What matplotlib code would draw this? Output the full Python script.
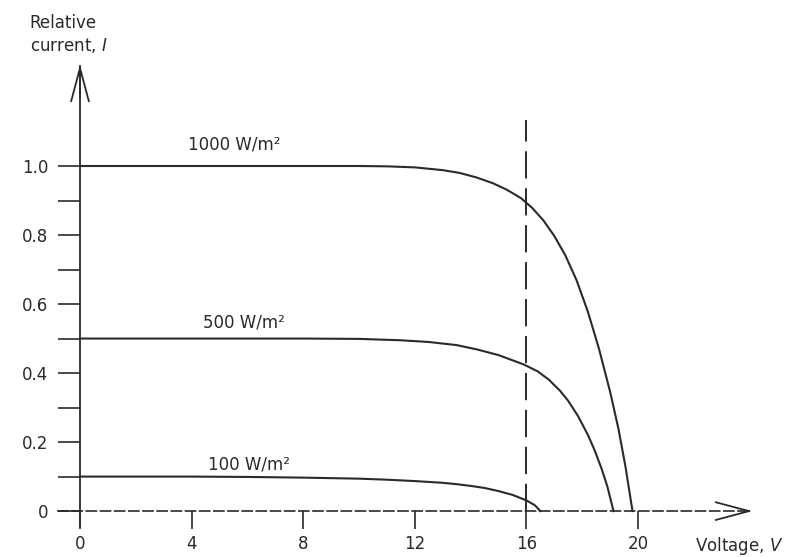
import matplotlib
matplotlib.use("Agg")
import matplotlib.pyplot as plt

# ── Data ───────────────────────────────────────────────────────────────────────
v_1000 = [0, 4, 8, 10, 11, 12, 13, 13.6, 14.2, 14.8, 15.3, 15.8, 16.2, 16.6,
          17.0, 17.4, 17.8, 18.2, 18.6, 19.0, 19.3, 19.55, 19.8]
i_1000 = [1.0, 1.0, 1.0, 1.0, 0.999, 0.996, 0.988, 0.980, 0.967, 0.950, 0.931, 0.907, 0.879, 0.843,
          0.797, 0.740, 0.668, 0.578, 0.470, 0.345, 0.237, 0.128, 0.0]

v_500 = [0, 4, 8, 10, 11.5, 12.5, 13.5, 14.25, 15.0, 15.9, 16.4, 16.8, 17.2, 17.5,
         17.85, 18.2, 18.45, 18.7, 18.9, 19.12]
i_500 = [0.5, 0.5, 0.5, 0.499, 0.495, 0.490, 0.481, 0.468, 0.452, 0.425, 0.405, 0.381, 0.349, 0.319,
         0.275, 0.221, 0.175, 0.121, 0.071, 0.0]

v_100 = [0, 4, 6, 8, 10, 11, 12, 13, 13.5, 14, 14.5, 15.0, 15.5, 16.0, 16.3, 16.5]
i_100 = [0.1, 0.1, 0.099, 0.097, 0.094, 0.091, 0.087, 0.082, 0.078, 0.073, 0.067, 0.058, 0.047,
         0.031, 0.017, 0.0]

x_ticks = [0, 4, 8, 12, 16, 20]
x_tick_labels = ["0", "4", "8", "12", "16", "20"]
y_ticks = [0, 0.2, 0.4, 0.6, 0.8, 1.0]
y_tick_labels = ["0", "0.2", "0.4", "0.6", "0.8", "1.0"]
y_minor = [0.1, 0.3, 0.5, 0.7, 0.9]

curve_labels = ["1000 W/m²", "500 W/m²", "100 W/m²"]
mpp_voltage = 16

# ── Style ──────────────────────────────────────────────────────────────────────
INK = "#2a2a2a"
plt.rcParams["font.family"] = "DejaVu Sans"
plt.rcParams["mathtext.fontset"] = "dejavusans"

fig = plt.figure(figsize=(7.91, 5.57), dpi=100)
ax = fig.add_axes([0, 0, 1, 1])
ax.set_xlim(-2.867, 25.48)
ax.set_ylim(-0.133, 1.481)

for s in ["top", "right"]:
    ax.spines[s].set_visible(False)
ax.spines["left"].set_position(("data", 0))
ax.spines["bottom"].set_position(("data", 0))
ax.spines["left"].set_bounds(-0.045, 1.29)
ax.spines["bottom"].set_bounds(-0.79, 24.0)
ax.spines["left"].set_color(INK)
ax.spines["bottom"].set_color(INK)
ax.spines["left"].set_linewidth(1.3)
ax.spines["bottom"].set_linewidth(1.2)
ax.spines["bottom"].set_linestyle((0, (6, 2.5)))

ax.set_xticks(x_ticks)
ax.set_xticklabels(x_tick_labels)
ax.set_yticks(y_ticks)
ax.set_yticklabels(y_tick_labels)
ax.set_yticks(y_minor, minor=True)
ax.tick_params(axis="x", direction="out", length=13, width=1.2, pad=4,
               labelsize=12, colors=INK)
ax.tick_params(axis="y", which="both", direction="out", length=16, width=1.2,
               pad=7, labelsize=12, colors=INK)

# axis arrow heads
arrow = dict(arrowstyle="->,head_length=1.2,head_width=0.32", mutation_scale=20,
             lw=1.3, color=INK, shrinkA=0, shrinkB=0)
ax.annotate("", xy=(0, 1.294), xytext=(0, 1.2), arrowprops=arrow)
ax.annotate("", xy=(24.1, 0), xytext=(23.9, 0), arrowprops=arrow)

# curves
for v, i in [(v_1000, i_1000), (v_500, i_500), (v_100, i_100)]:
    ax.plot(v, i, color=INK, lw=1.5, solid_joinstyle="round")

# dashed line at maximum power voltage
ax.vlines(mpp_voltage, 0, 1.134, color=INK, lw=1.4, linestyles=(0, (14, 5)))

# curve labels
ax.text(3.88, 1.047, curve_labels[0], fontsize=12, color=INK, va="baseline")
ax.text(4.42, 0.531, curve_labels[1], fontsize=12, color=INK, va="baseline")
ax.text(4.6, 0.12, curve_labels[2], fontsize=12, color=INK, va="baseline")

# axis titles
ax.text(-1.8, 1.44, "Relative\ncurrent, $I$", fontsize=12, color=INK,
        ha="left", va="top", linespacing=1.25)
ax.text(22.05, -0.117, "Voltage, $V$", fontsize=12, color=INK,
        ha="left", va="baseline")

fig.savefig("out.png", dpi=100, facecolor="white")
